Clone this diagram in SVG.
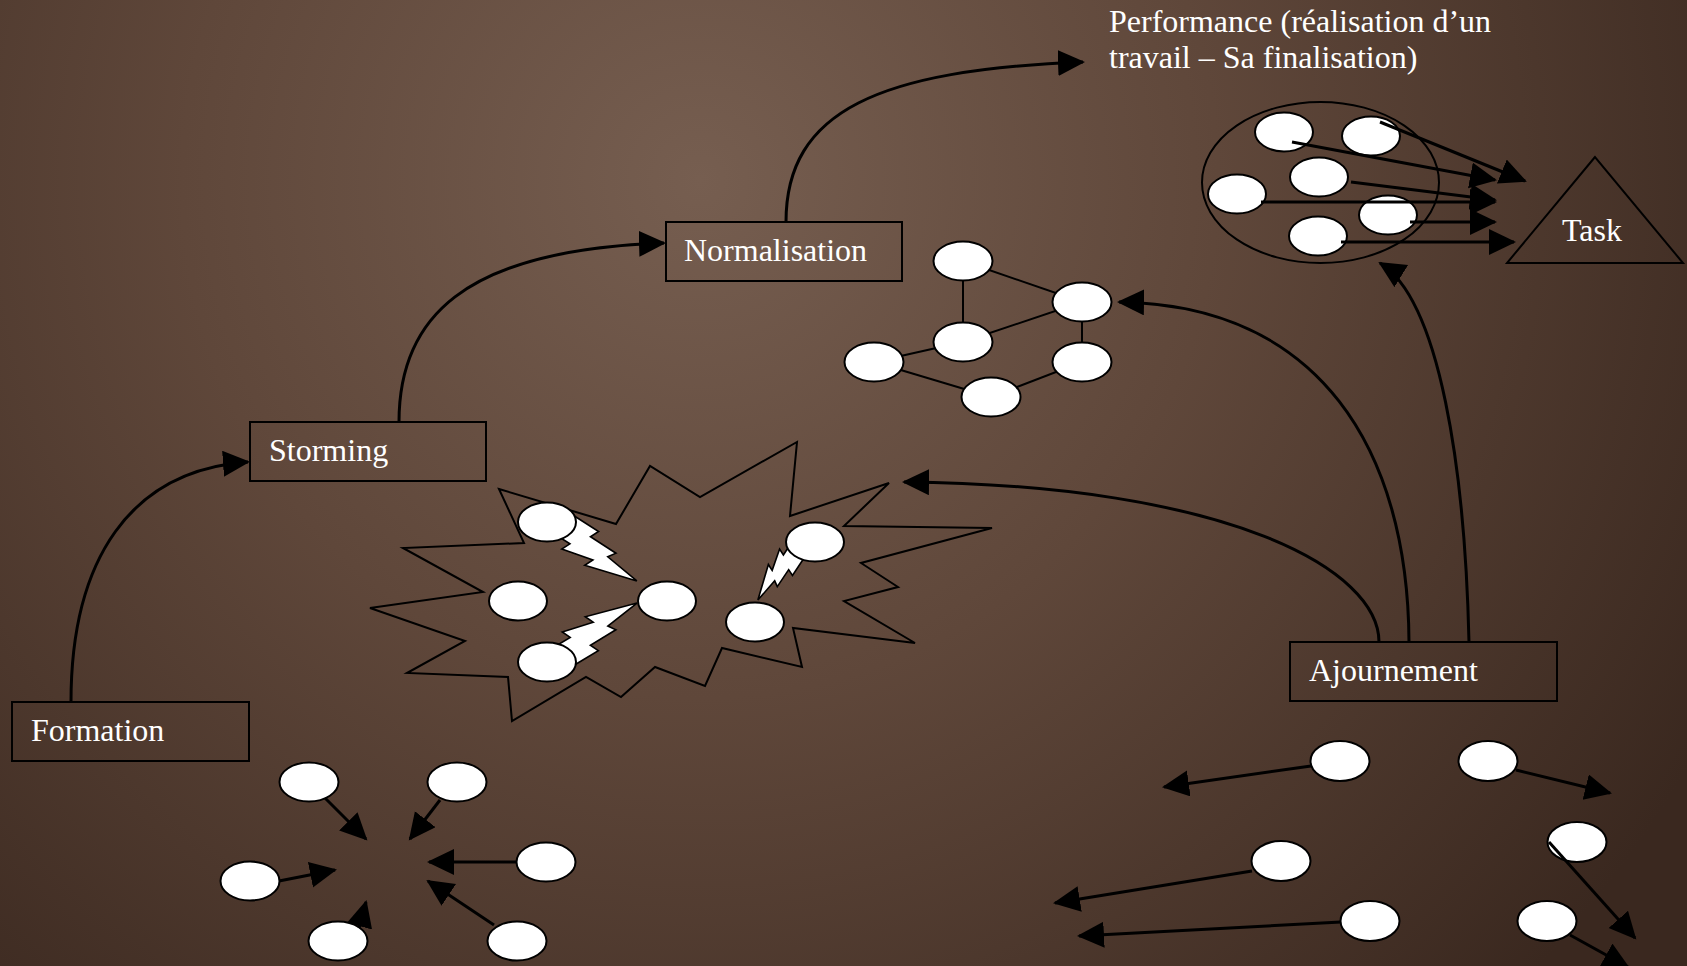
<svg xmlns="http://www.w3.org/2000/svg" xmlns:xlink="http://www.w3.org/1999/xlink" width="1687" height="966" viewBox="0 0 1687 966">
<defs>
<radialGradient id="bg" gradientUnits="userSpaceOnUse" cx="700" cy="180" r="1150">
<stop offset="0" stop-color="#765e50"/>
<stop offset="0.45" stop-color="#5f473a"/>
<stop offset="1" stop-color="#3a281f"/>
</radialGradient>
<marker id="ah" markerUnits="userSpaceOnUse" markerWidth="30" markerHeight="28" refX="25" refY="13" orient="auto">
<path d="M0,0 L27,13 L0,26 z" fill="#000"/>
</marker>
<polygon id="bolt" points="0,-10 27,-12 24,-5 52,-7 48,-1 83,0 36,15 39,8 10,16 13,9 0,10" fill="#fff" stroke="#000" stroke-width="1.6" vector-effect="non-scaling-stroke" stroke-linejoin="miter"/>
<style>
.box{fill:none;stroke:#000;stroke-width:2}
.lbl{font-family:"Liberation Serif","Times New Roman",serif;font-size:32px;fill:#fff}
.dot{fill:#fff;stroke:#000;stroke-width:2}
.edge{stroke:#000;stroke-width:2;fill:none}
.arr{stroke:#000;stroke-width:3;fill:none;marker-end:url(#ah)}
.out{fill:none;stroke:#000;stroke-width:2}
</style>
</defs>
<rect x="0" y="0" width="1687" height="966" fill="url(#bg)"/>

<g id="formation">
<rect class="box" x="12" y="702" width="237" height="59"/>
<text class="lbl" x="31" y="741">Formation</text>
</g>
<g id="storming">
<rect class="box" x="250" y="422" width="236" height="59"/>
<text class="lbl" x="269" y="461">Storming</text>
</g>
<g id="normalisation">
<rect class="box" x="666" y="222" width="236" height="59"/>
<text class="lbl" x="684" y="261">Normalisation</text>
</g>
<g id="ajournement">
<rect class="box" x="1290" y="642" width="267" height="59"/>
<text class="lbl" x="1309" y="681">Ajournement</text>
</g>
<g id="performance">
<text class="lbl" x="1109" y="32">Performance (réalisation d’un</text>
<text class="lbl" x="1109" y="68">travail – Sa finalisation)</text>
</g>
<g id="task">
<polygon class="out" points="1595,157 1507,263 1683,263"/>
<text class="lbl" x="1562" y="241">Task</text>
</g>

<g id="storm-cluster">
<polygon class="out" points="499,489 616,524 650,466 700,497 797,442 790,516 889,483 844,526 992,528 861,563 898,587 844,601 915,643 793,628 802,667 722,648 705,686 655,667 621,697 586,677 512,721 508,677 407,673 465,641 370,608 483,592 403,548 524,543"/>
<use xlink:href="#bolt" href="#bolt" transform="translate(566,526) rotate(37.8) scale(1.08,1.3)"/>
<use xlink:href="#bolt" href="#bolt" transform="translate(566,655) rotate(-36.2) scale(1.06,-1.3)"/>
<use xlink:href="#bolt" href="#bolt" transform="translate(796,553) rotate(129) scale(0.73,0.95)"/>
<ellipse class="dot" cx="547" cy="522" rx="29" ry="19.5"/>
<ellipse class="dot" cx="815" cy="542" rx="29" ry="19.5"/>
<ellipse class="dot" cx="518" cy="601" rx="29" ry="19.5"/>
<ellipse class="dot" cx="667" cy="601" rx="29" ry="19.5"/>
<ellipse class="dot" cx="755" cy="622" rx="29" ry="19.5"/>
<ellipse class="dot" cx="547" cy="662" rx="29" ry="19.5"/>
</g>

<g id="norm-cluster">
<line class="edge" x1="963" y1="261" x2="1082" y2="302"/>
<line class="edge" x1="963" y1="261" x2="963" y2="342"/>
<line class="edge" x1="963" y1="342" x2="1082" y2="302"/>
<line class="edge" x1="874" y1="362" x2="963" y2="342"/>
<line class="edge" x1="874" y1="362" x2="991" y2="397"/>
<line class="edge" x1="991" y1="397" x2="1082" y2="362"/>
<line class="edge" x1="1082" y1="302" x2="1082" y2="362"/>
<ellipse class="dot" cx="963" cy="261" rx="29.5" ry="19.5"/>
<ellipse class="dot" cx="1082" cy="302" rx="29.5" ry="19.5"/>
<ellipse class="dot" cx="963" cy="342" rx="29.5" ry="19.5"/>
<ellipse class="dot" cx="874" cy="362" rx="29.5" ry="19.5"/>
<ellipse class="dot" cx="1082" cy="362" rx="29.5" ry="19.5"/>
<ellipse class="dot" cx="991" cy="397" rx="29.5" ry="19.5"/>
</g>

<g id="perf-cluster">
<ellipse class="out" cx="1320.5" cy="182.5" rx="118.5" ry="80.5"/>
<ellipse class="dot" cx="1284" cy="132" rx="29" ry="19.5"/>
<ellipse class="dot" cx="1371" cy="136" rx="29" ry="19.5"/>
<ellipse class="dot" cx="1319" cy="177" rx="29" ry="19.5"/>
<ellipse class="dot" cx="1237" cy="194" rx="29" ry="19.5"/>
<ellipse class="dot" cx="1388" cy="215" rx="29" ry="19.5"/>
<ellipse class="dot" cx="1318" cy="236" rx="29" ry="19.5"/>
</g>

<g id="form-cluster">
<ellipse class="dot" cx="309" cy="782" rx="29.5" ry="19.5"/>
<ellipse class="dot" cx="457" cy="782" rx="29.5" ry="19.5"/>
<ellipse class="dot" cx="546" cy="862" rx="29.5" ry="19.5"/>
<ellipse class="dot" cx="250" cy="881" rx="29.5" ry="19.5"/>
<ellipse class="dot" cx="338" cy="941" rx="29.5" ry="19.5"/>
<ellipse class="dot" cx="517" cy="941" rx="29.5" ry="19.5"/>
</g>

<g id="ajourn-cluster">
<ellipse class="dot" cx="1340" cy="761" rx="29.5" ry="20"/>
<ellipse class="dot" cx="1488" cy="761" rx="29.5" ry="20"/>
<ellipse class="dot" cx="1577" cy="842" rx="29.5" ry="20"/>
<ellipse class="dot" cx="1281" cy="861" rx="29.5" ry="20"/>
<ellipse class="dot" cx="1370" cy="921" rx="29.5" ry="20"/>
<ellipse class="dot" cx="1547" cy="921" rx="29.5" ry="20"/>
</g>

<g id="connectors">
<path class="arr" d="M71,702 C71,560 130,470 248,462"/>
<path class="arr" d="M399,422 C399,320 460,250 664,243"/>
<path class="arr" d="M786,222 C786,110 880,70 1083,62"/>
<path class="arr" d="M1379,642 C1379,570 1230,485 904,482"/>
<path class="arr" d="M1409,642 C1408,450 1320,305 1119,302"/>
<path class="arr" d="M1469,642 C1465,470 1440,300 1380,263"/>
<path class="arr" d="M1380,122 L1525,181"/>
<path class="arr" d="M1292,142 L1495,180"/>
<path class="arr" d="M1351,182 L1495,200"/>
<path class="arr" d="M1261,202 L1495,202"/>
<path class="arr" d="M1410,222 L1495,222"/>
<path class="arr" d="M1341,242 L1514,242"/>
<path class="arr" d="M325,798 L366,839"/>
<path class="arr" d="M440,800 L410,839"/>
<path class="arr" d="M517,862 L429,862"/>
<path class="arr" d="M494,925 L428,881"/>
<path class="arr" d="M279,881 L335,870"/>
<path class="arr" d="M359,928 L366,902"/>
<path class="arr" d="M1311,766 L1164,787"/>
<path class="arr" d="M1516,770 L1610,793"/>
<path class="arr" d="M1549,842 L1635,938"/>
<path class="arr" d="M1252,871 L1055,903"/>
<path class="arr" d="M1341,922 L1079,936"/>
<path class="arr" d="M1570,935 L1628,967"/>
</g>
</svg>
